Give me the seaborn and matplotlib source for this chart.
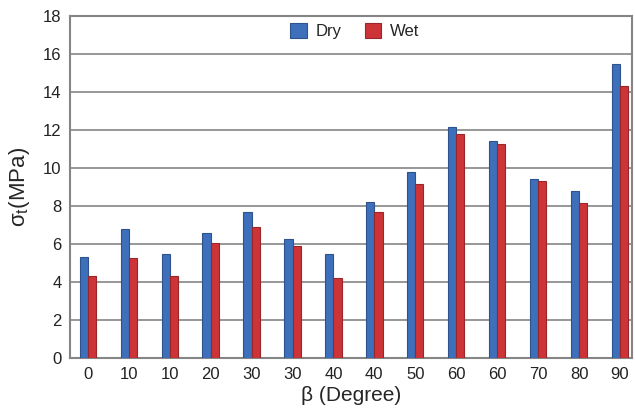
import numpy as np
import pandas as pd
import matplotlib
matplotlib.use("Agg")
import matplotlib.pyplot as plt
import seaborn as sns

angles = ["0", "10", "10", "20", "30", "30", "40", "40", "50", "60", "60", "70", "80", "90"]
dry = [5.3, 6.8, 5.5, 6.6, 7.7, 6.25, 5.5, 8.2, 9.8, 12.15, 11.45, 9.45, 8.8, 15.5]
wet = [4.35, 5.25, 4.35, 6.05, 6.9, 5.9, 4.2, 7.7, 9.15, 11.8, 11.25, 9.35, 8.15, 14.35]

df = pd.DataFrame({
    "pos": list(range(len(angles))) * 2,
    "cond": ["Dry"] * len(angles) + ["Wet"] * len(angles),
    "value": dry + wet,
})

sns.set_style("white")
plt.rcParams["font.family"] = ["Liberation Sans", "DejaVu Sans"]
plt.rcParams["mathtext.fontset"] = "custom"
plt.rcParams["mathtext.rm"] = "Liberation Sans"
plt.rcParams["mathtext.it"] = "Liberation Sans"

fig = plt.figure(figsize=(6.35, 4.16), dpi=100)
ax = fig.add_axes([0.110, 0.139, 0.885, 0.822])

ax.yaxis.grid(True, color="#858585", linewidth=1.2, zorder=0)
ax.set_axisbelow(True)

sns.barplot(data=df, x="pos", y="value", hue="cond",
            palette={"Dry": "#3d6fbb", "Wet": "#cc3437"}, saturation=1,
            width=0.4, gap=0.0, ax=ax, zorder=3)
for bar in ax.patches:
    c = bar.get_facecolor()
    bar.set_edgecolor(tuple(np.array(c[:3]) * 0.75))
    bar.set_linewidth(0.8)

ax.set_xticks(range(len(angles)))
ax.set_xticklabels(angles)
ax.set_xlim(-0.44, 13.29)
ax.set_ylim(0, 18)
ax.set_yticks(range(0, 19, 2))
ax.tick_params(axis="both", labelsize=12, colors="#222222", length=0, pad=6)

for s in ax.spines.values():
    s.set_color("#858585")
    s.set_linewidth(1.5)

ax.set_xlabel("β (Degree)", fontsize=15, labelpad=3)
ax.set_ylabel(r"σ$_\mathrm{t}$(MPa)", fontsize=16, labelpad=8)

leg = ax.legend(loc="center", bbox_to_anchor=(0.507, 0.956), ncol=2, frameon=False,
                fontsize=12, handlelength=1.0, handleheight=1.0, columnspacing=1.4,
                handletextpad=0.5)
leg.set_title(None)

fig.savefig("out.png", dpi=100)
